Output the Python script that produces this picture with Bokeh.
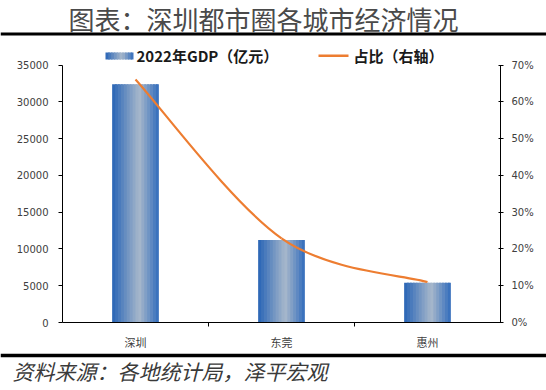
from bokeh.plotting import figure
from bokeh.layouts import column
from bokeh.models import (Range1d, LinearAxis, FixedTicker, Label, BoxAnnotation, Span,
                          ColumnDataSource, CustomJSTickFormatter)
from bokeh.embed import file_html
from bokeh.resources import INLINE

# ---------------- data ----------------
cities = ["深圳", "东莞", "惠州"]
gdp = [32388, 11200, 5401]          # 2022年GDP（亿元）
share = [66.1, 22.9, 11.0]          # 占比（%，右轴）
left_ticks = [0, 5000, 10000, 15000, 20000, 25000, 30000, 35000]
right_ticks = [0, 10, 20, 30, 40, 50, 60, 70]
title_text = "图表：深圳都市圈各城市经济情况"
source_text = "资料来源：各地统计局，泽平宏观"
legend_bar = "2022年GDP（亿元）"
legend_line = "占比（右轴）"

# ---------------- layout constants (pixels) ----------------
W = 546
HEAD_H = 40
FOOT_H = 38
MAIN_H = 390 - HEAD_H - FOOT_H          # 312
FRAME_L, FRAME_R = 62, 500              # frame edges (page x)
AXIS_TOP = 65 - HEAD_H                  # y of the 35000 / 70% tick inside main figure
FRAME_B = 327 - HEAD_H                  # frame bottom inside main figure
frame_h = FRAME_B                       # frame starts at top of main figure
scale_ext = frame_h / (FRAME_B - AXIS_TOP)

LABEL_COLOR = "#404040"

# ---------------- header ----------------
head = figure(width=W, height=HEAD_H, output_backend="svg", toolbar_location=None,
              x_range=Range1d(0, W), y_range=Range1d(0, HEAD_H),
              x_axis_location=None, y_axis_location=None, frame_align=False,
              min_border_left=0, min_border_right=0, min_border_top=0, min_border_bottom=0)
head.outline_line_color = None
head.grid.visible = False
head.add_layout(Label(x=263, y=HEAD_H - 18, x_units="screen", y_units="screen", text=title_text,
                      text_align="center", text_baseline="middle",
                      text_font="Noto Sans CJK SC", text_font_size="26px", text_color="#4a4a4a"))
head.add_layout(Span(location=HEAD_H - 33.5, dimension="width", line_color="black", line_width=3))

# ---------------- main chart ----------------
p = figure(width=W, height=MAIN_H, output_backend="svg", toolbar_location=None,
           x_range=Range1d(0, len(cities)), y_range=Range1d(0, left_ticks[-1] * scale_ext),
           frame_align=False,
           min_border_left=FRAME_L, min_border_right=W - FRAME_R,
           min_border_top=0, min_border_bottom=MAIN_H - FRAME_B)
p.outline_line_color = None
p.xgrid.visible = False
p.ygrid.visible = False

ya = p.yaxis[0]
ya.ticker = FixedTicker(ticks=left_ticks)
ya.bounds = (left_ticks[0], left_ticks[-1])
ya.axis_line_color = "black"
ya.major_tick_line_color = "black"
ya.major_tick_out = 4
ya.major_tick_in = 0
ya.minor_tick_line_color = None
ya.major_label_standoff = 10
ya.major_label_text_font = "DejaVu Sans"
ya.major_label_text_font_size = "10px"
ya.major_label_text_color = LABEL_COLOR

xa = p.xaxis[0]
xa.ticker = FixedTicker(ticks=[i + 0.5 for i in range(len(cities))],
                        minor_ticks=list(range(1, len(cities))))
xa.formatter = CustomJSTickFormatter(args=dict(labels=cities),
                                     code="return labels[Math.floor(tick)]")
xa.axis_line_color = "black"
xa.major_tick_out = 0
xa.major_tick_in = 0
xa.minor_tick_out = 4
xa.minor_tick_in = 0
xa.minor_tick_line_color = "black"
xa.major_label_standoff = 7
xa.major_label_text_font = "Noto Sans CJK SC"
xa.major_label_text_font_size = "11px"
xa.major_label_text_color = LABEL_COLOR

p.extra_y_ranges = {"pct": Range1d(0, right_ticks[-1] * scale_ext)}
ra = LinearAxis(y_range_name="pct", ticker=FixedTicker(ticks=right_ticks),
                formatter=CustomJSTickFormatter(code="return tick + '%'"))
ra.bounds = (right_ticks[0], right_ticks[-1])
ra.axis_line_color = "black"
ra.major_tick_line_color = "black"
ra.major_tick_out = 3
ra.major_tick_in = 2
ra.minor_tick_line_color = None
ra.major_label_standoff = 8
ra.major_label_text_font = "DejaVu Sans"
ra.major_label_text_font_size = "10px"
ra.major_label_text_color = LABEL_COLOR
p.add_layout(ra, "right")

# gradient bars (overlapping strips, drawn left to right)
bar_w = 0.32
n_strips = 16
stops = [(0.0, (40, 100, 182)), (0.58, (168, 184, 203)), (1.0, (50, 108, 188))]

def grad(t):
    for (t0, c0), (t1, c1) in zip(stops[:-1], stops[1:]):
        if t0 <= t <= t1:
            f = (t - t0) / (t1 - t0)
            c = [int(round(a + (b - a) * f)) for a, b in zip(c0, c1)]
            return "#%02x%02x%02x" % tuple(c)
    return "#%02x%02x%02x" % stops[-1][1]

sw = bar_w / n_strips
bl, br, btop, bcol = [], [], [], []
for i, v in enumerate(gdp):
    x_left = i + 0.5 - bar_w / 2
    for k in range(n_strips):
        bl.append(x_left + k * sw)
        br.append(x_left + min((k + 1.6) * sw, bar_w))
        btop.append(v)
        bcol.append(grad((k + 0.5) / n_strips))
p.quad(left="l", right="r", top="top", bottom=0, fill_color="c", line_color=None,
       source=ColumnDataSource(dict(l=bl, r=br, top=btop, c=bcol)))

# smoothed share line (Catmull-Rom -> Bezier)
pts = [(i + 0.5, s) for i, s in enumerate(share)]
seg = dict(x0=[], y0=[], x1=[], y1=[], cx0=[], cy0=[], cx1=[], cy1=[])
for i in range(len(pts) - 1):
    pm = pts[max(i - 1, 0)]
    p0 = pts[i]
    p1 = pts[i + 1]
    p2 = pts[min(i + 2, len(pts) - 1)]
    seg["x0"].append(p0[0]); seg["y0"].append(p0[1])
    seg["x1"].append(p1[0]); seg["y1"].append(p1[1])
    seg["cx0"].append(p0[0] + (p1[0] - pm[0]) / 6); seg["cy0"].append(p0[1] + (p1[1] - pm[1]) / 6)
    seg["cx1"].append(p1[0] - (p2[0] - p0[0]) / 6); seg["cy1"].append(p1[1] - (p2[1] - p0[1]) / 6)
p.bezier(x0="x0", y0="y0", x1="x1", y1="y1", cx0="cx0", cy0="cy0", cx1="cx1", cy1="cy1",
         line_color="#ED7D31", line_width=2.2, y_range_name="pct",
         source=ColumnDataSource(seg))

# legend (screen units: x from frame left, y up from frame bottom)
def sx(px):
    return px - FRAME_L

def sy(py):
    return 327 - py

nl = 10
lg_l, lg_r = 105, 133
for k in range(nl):
    p.add_layout(BoxAnnotation(left=sx(lg_l + k * (lg_r - lg_l) / nl),
                               right=sx(min(lg_l + (k + 1.5) * (lg_r - lg_l) / nl, lg_r)),
                               top=sy(57), bottom=sy(64),
                               left_units="screen", right_units="screen",
                               top_units="screen", bottom_units="screen",
                               fill_color=grad((k + 0.5) / nl), fill_alpha=1, line_color=None))
p.add_layout(Label(x=sx(136), y=sy(60), x_units="screen", y_units="screen", text=legend_bar,
                   text_align="left", text_baseline="middle", text_font_style="bold",
                   text_font="Noto Sans CJK SC", text_font_size="15px", text_color="#1a1a1a"))
p.add_layout(BoxAnnotation(left=sx(318), right=sx(348), top=sy(59), bottom=sy(61.5),
                           left_units="screen", right_units="screen",
                           top_units="screen", bottom_units="screen",
                           fill_color="#ED7D31", fill_alpha=1, line_color=None))
p.add_layout(Label(x=sx(353), y=sy(60), x_units="screen", y_units="screen", text=legend_line,
                   text_align="left", text_baseline="middle", text_font_style="bold",
                   text_font="Noto Sans CJK SC", text_font_size="15px", text_color="#1a1a1a"))

# ---------------- footer ----------------
foot = figure(width=W, height=FOOT_H, output_backend="svg", toolbar_location=None,
              x_range=Range1d(0, W), y_range=Range1d(0, FOOT_H),
              x_axis_location=None, y_axis_location=None, frame_align=False,
              min_border_left=0, min_border_right=0, min_border_top=0, min_border_bottom=0)
foot.outline_line_color = None
foot.grid.visible = False
foot.add_layout(Span(location=FOOT_H - 3, dimension="width", line_color="black", line_width=3.5))
foot.add_layout(Label(x=12, y=FOOT_H - 18, x_units="screen", y_units="screen", text=source_text,
                      text_align="left", text_baseline="middle", text_font_style="italic",
                      text_font="Noto Sans CJK SC", text_font_size="21px", text_color="#3a3a3a"))

layout = column(head, p, foot, spacing=0)
open("out.html", "w").write(file_html(layout, INLINE))
